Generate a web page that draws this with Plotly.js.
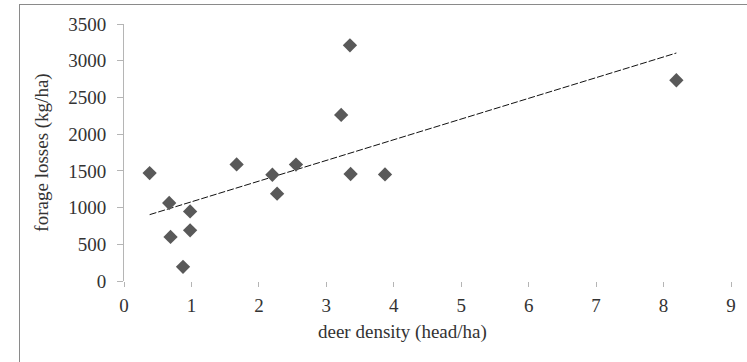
<!DOCTYPE html>
<html>
<head>
<meta charset="utf-8">
<script src="https://cdn.plot.ly/plotly-3.0.1.min.js"></script>
<style>
  html, body { margin: 0; padding: 0; background: #fff; }
  #wrap { position: relative; width: 747px; height: 362px; overflow: hidden; }
  #chart { position: absolute; left: 0; top: 0; width: 747px; height: 362px; }
  #frame { position: absolute; left: 19px; top: 4px; width: 800px; height: 400px;
           border-left: 1px solid #8a8a8a; border-top: 1px solid #8a8a8a; pointer-events: none; }
</style>
</head>
<body>
<div id="wrap">
  <div id="chart"></div>
  <div id="frame"></div>
</div>
<script>
// Data
const deerDensity = [0.38, 0.67, 0.69, 0.875, 0.98, 0.98, 1.67, 2.20, 2.27, 2.55, 3.22, 3.35, 3.36, 3.87, 8.19];
const forageLosses = [1470, 1062, 600, 193, 948, 690, 1587, 1447, 1189, 1585, 2262, 3209, 1457, 1451, 2734];
const xTickVals = [0, 1, 2, 3, 4, 5, 6, 7, 8, 9];
const yTickVals = [0, 500, 1000, 1500, 2000, 2500, 3000, 3500];
const xTitle = 'deer density (head/ha)';
const yTitle = 'forage losses (kg/ha)';

// Linear trend line (least squares), like the spreadsheet trendline
const n = deerDensity.length;
const mx = deerDensity.reduce((a, b) => a + b, 0) / n;
const my = forageLosses.reduce((a, b) => a + b, 0) / n;
let sxy = 0, sxx = 0;
for (let i = 0; i < n; i++) {
  sxy += (deerDensity[i] - mx) * (forageLosses[i] - my);
  sxx += (deerDensity[i] - mx) ** 2;
}
const slope = sxy / sxx;
const intercept = my - slope * mx;
const xMin = Math.min(...deerDensity), xMax = Math.max(...deerDensity);
const trendX = [xMin, xMax];
const trendY = trendX.map(v => intercept + slope * v);

const font = { family: '"Liberation Serif", "Times New Roman", serif', size: 19, color: '#333333' };

const traces = [
  {
    x: trendX, y: trendY, type: 'scatter', mode: 'lines',
    line: { color: '#111', width: 1, dash: '7px,2px' },
    hoverinfo: 'skip', showlegend: false
  },
  {
    x: deerDensity, y: forageLosses, type: 'scatter', mode: 'markers',
    marker: { symbol: 'diamond', size: 11, color: '#595959', line: { width: 0 } },
    showlegend: false
  }
];

const layout = {
  width: 747, height: 362,
  margin: { l: 124, r: 16, t: 24, b: 80.5, pad: 0 },
  paper_bgcolor: '#ffffff', plot_bgcolor: '#ffffff',
  font: font,
  showlegend: false,
  xaxis: {
    range: [0, 9], tickvals: xTickVals, ticktext: xTickVals.map(String),
    showgrid: false, zeroline: false, showline: false,
    ticks: 'outside', ticklen: 5, tickwidth: 1, tickcolor: '#b5b5b5',
    tickfont: font, ticklabelstandoff: 2, fixedrange: true
  },
  yaxis: {
    range: [0, 3500], tickvals: yTickVals, ticktext: yTickVals.map(String),
    showgrid: false, zeroline: false, showline: true, linecolor: '#b5b5b5', linewidth: 1,
    ticks: 'outside', ticklen: 6, tickwidth: 1, tickcolor: '#b5b5b5',
    tickfont: font, ticklabelstandoff: 7,
    title: { text: yTitle, font: font, standoff: 14 }, fixedrange: true
  },
  annotations: [
    { text: xTitle, xref: 'paper', yref: 'paper', x: (402 - 124) / 607, y: -(333 - 281.5) / 257.5,
      xanchor: 'center', yanchor: 'middle', showarrow: false, font: font }
  ]
};

Plotly.newPlot('chart', traces, layout, { displayModeBar: false, staticPlot: true });
</script>
</body>
</html>
